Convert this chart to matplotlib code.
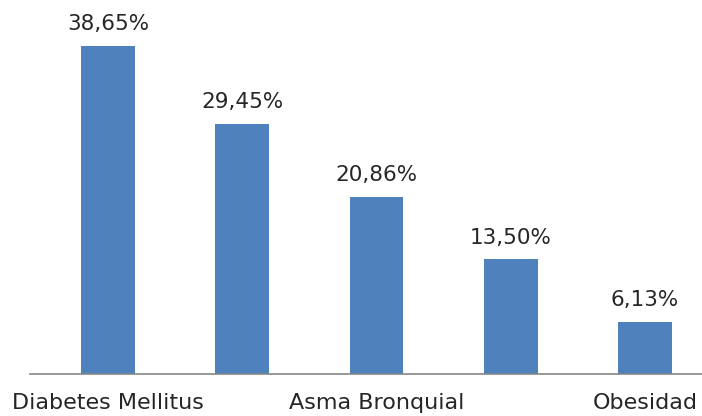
import matplotlib.pyplot as plt

# datos del grafico
categorias = ["Diabetes Mellitus", "", "Asma Bronquial", "", "Obesidad"]
porcentajes = [38.65, 29.45, 20.86, 13.50, 6.13]
etiquetas = ["38,65%", "29,45%", "20,86%", "13,50%", "6,13%"]

fig = plt.figure(figsize=(7.02, 4.16), dpi=100)
ax = fig.add_axes([30 / 702, 42 / 416, 672 / 702, 374 / 416])

x = range(len(categorias))
barras = ax.bar(x, porcentajes, width=0.4, color="#4F81BD")

for b, txt in zip(barras, etiquetas):
    ax.annotate(txt, (b.get_x() + b.get_width() / 2, b.get_height()),
                xytext=(0, 8.5), textcoords="offset points",
                ha="center", va="bottom", fontsize=15.5, color="#262626")

ax.set_xlim(-0.582, 4.425)
ax.set_ylim(0, 44.07)
ax.set_xticks(list(x))
ax.set_xticklabels(categorias, fontsize=16, color="#262626")
ax.tick_params(axis="x", length=0, pad=14)
ax.set_yticks([])

for lado in ["top", "right", "left"]:
    ax.spines[lado].set_visible(False)
ax.spines["bottom"].set_color("#868686")
ax.spines["bottom"].set_linewidth(1.2)

fig.savefig("out.png", dpi=100)
